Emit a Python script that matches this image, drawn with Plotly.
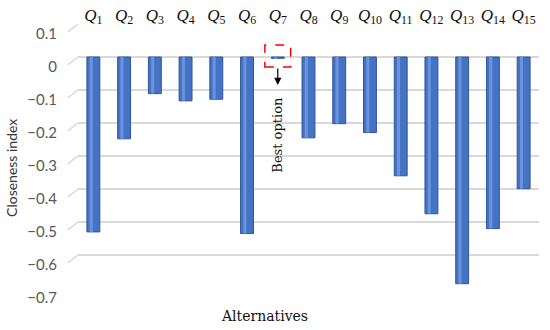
import plotly.graph_objects as go

# alternatives and their closeness index
alternatives = ["Q1", "Q2", "Q3", "Q4", "Q5", "Q6", "Q7", "Q8",
                "Q9", "Q10", "Q11", "Q12", "Q13", "Q14", "Q15"]
closeness = [-0.530, -0.248, -0.111, -0.133, -0.128, -0.535, -0.004, -0.245,
             -0.202, -0.229, -0.360, -0.475, -0.687, -0.520, -0.399]
alt_labels = [f"<i>Q</i><sub>{a[1:]}</sub>" for a in alternatives]

y_ticks = [0.1, 0, -0.1, -0.2, -0.3, -0.4, -0.5, -0.6, -0.7]
y_ticktext = ["0.1", "0", "\u22120.1", "\u22120.2", "\u22120.3",
              "\u22120.4", "\u22120.5", "\u22120.6", "\u22120.7"]

BLUE = "#4472C4"
EDGE = "#2F5597"
GRID = "#D9D9D9"

fig = go.Figure()

# main cylinder body
fig.add_trace(go.Bar(x=alternatives, y=closeness, width=0.42,
                     marker=dict(color=BLUE, line=dict(color=EDGE, width=1)),
                     showlegend=False, hoverinfo="x+y"))
# highlight stripe to fake the round shading
fig.add_trace(go.Bar(x=alternatives, y=closeness, width=0.1, offset=-0.12,
                     marker=dict(color="#6A93DB", line=dict(width=0)),
                     showlegend=False, hoverinfo="skip"))

# little slanted stubs at the left of each gridline (3D wall look)
for v in y_ticks:
    fig.add_shape(type="line", xref="paper", yref="y",
                  x0=-0.022, y0=v - 0.024, x1=0, y1=v,
                  line=dict(color=GRID, width=1.5))

# highlight the best option
best = closeness.index(max(closeness))
fig.add_shape(type="rect", xref="x", yref="y",
              x0=best - 0.42, x1=best + 0.42, y0=-0.03, y1=0.036,
              line=dict(color="#FF0000", width=1.5, dash="dash"))
fig.add_annotation(x=best, y=-0.085, ax=best, ay=-0.03, axref="x", ayref="y",
                   xref="x", yref="y", text="", showarrow=True,
                   arrowhead=2, arrowsize=1.2, arrowwidth=1.2, arrowcolor="black")
fig.add_annotation(x=best, y=-0.236, xref="x", yref="y", text="Best option",
                   textangle=-90, showarrow=False,
                   font=dict(family="DejaVu Serif", size=13, color="#111111"))

fig.update_layout(
    width=550, height=330,
    margin=dict(l=78, r=11, t=24, b=42),
    paper_bgcolor="white", plot_bgcolor="white",
    barmode="overlay",
    xaxis=dict(side="top", tickmode="array", tickvals=alternatives,
               ticktext=alt_labels, showgrid=False, showline=False,
               ticks="", ticklabelstandoff=-1, automargin=False,
               tickfont=dict(family="Liberation Serif", size=17, color="#111111"),
               title=None),
    yaxis=dict(range=[-0.7, 0.1], tickmode="array", tickvals=y_ticks,
               ticktext=y_ticktext, showgrid=True, gridcolor=GRID, gridwidth=1.5,
               zeroline=False, showline=False, ticks="", automargin=False,
               ticklabelshift=10, ticklabelstandoff=20,
               tickfont=dict(family="Lato", size=15, color="#595959")),
)

# axis titles as annotations so they can sit where the reference has them
fig.add_annotation(x=-0.143, y=0.455, xref="paper", yref="paper",
                   xanchor="center", yanchor="middle", textangle=-90,
                   text="Closeness index", showarrow=False,
                   font=dict(family="Lato", size=14, color="#333333"))
fig.add_annotation(x=0.405, y=-0.106, xref="paper", yref="paper",
                   yanchor="middle", text="Alternatives", showarrow=False,
                   font=dict(family="DejaVu Serif", size=14, color="#111111"))

# drop the default body margin so the figure sits at the window's corner
fig.write_html("out.html", config={"displayModeBar": False},
               post_script="document.body.style.margin='0';")
